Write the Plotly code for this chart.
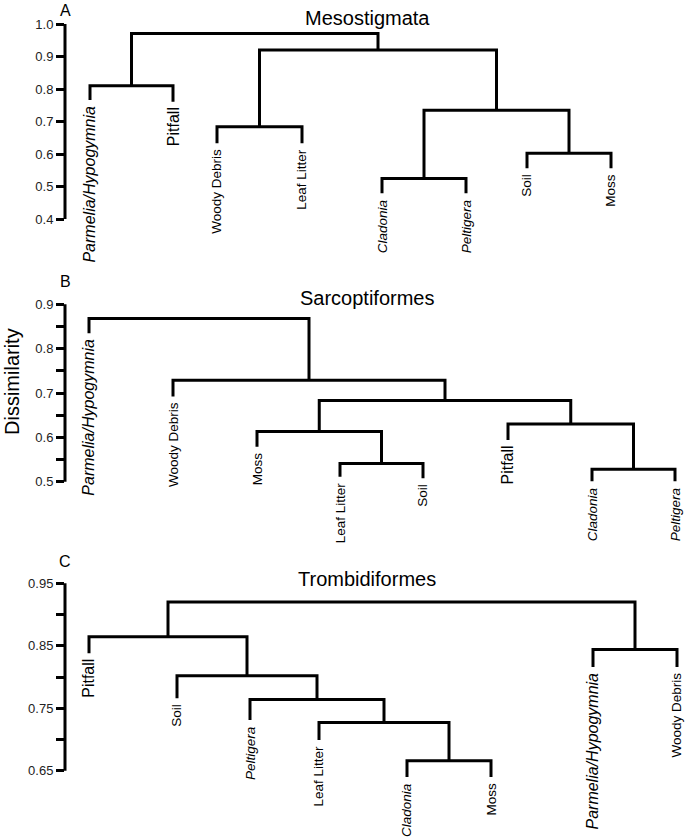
import plotly.graph_objects as go

FONT = "Liberation Sans, Arial, sans-serif"
W, H = 686, 837

# ---------------- data ----------------
# Panel A - Mesostigmata
a_title = "Mesostigmata"
a_leaves = ["<i>Parmelia/Hypogymnia</i>", "Pitfall", "Woody Debris", "Leaf Litter",
            "<i>Cladonia</i>", "<i>Peltigera</i>", "Soil", "Moss"]
a_leaf_pos = [90, 173, 217, 302, 382, 466, 527, 611]
a_leaf_tip = [0.766, 0.761, 0.633, 0.633, 0.479, 0.479, 0.556, 0.556]
# merges: (child, child, dissimilarity); ids 0-7 leaves, 8+k = k-th merge
a_merges = [(0, 1, 0.81), (2, 3, 0.684), (4, 5, 0.525), (6, 7, 0.602),
            (10, 11, 0.735), (9, 12, 0.92), (8, 13, 0.971)]
a_tickvals = [0.4, 0.5, 0.6, 0.7, 0.8, 0.9, 1.0]
a_ticktext = ["0.4", "0.5", "0.6", "0.7", "0.8", "0.9", "1.0"]

# Panel B - Sarcoptiformes
b_title = "Sarcoptiformes"
b_leaves = ["<i>Parmelia/Hypogymnia</i>", "Woody Debris", "Moss", "Leaf Litter", "Soil",
            "Pitfall", "<i>Cladonia</i>", "<i>Peltigera</i>"]
b_leaf_pos = [89, 173, 257, 340, 423, 508, 592, 675]
b_leaf_tip = [0.835, 0.692, 0.579, 0.511, 0.508, 0.594, 0.501, 0.501]
b_merges = [(3, 4, 0.541), (2, 8, 0.613), (6, 7, 0.528), (5, 10, 0.630),
            (9, 11, 0.683), (1, 12, 0.729), (0, 13, 0.868)]
b_tickvals = [0.5, 0.55, 0.6, 0.65, 0.7, 0.75, 0.8, 0.85, 0.9]
b_ticktext = ["0.5", "", "0.6", "", "0.7", "", "0.8", "", "0.9"]

# Panel C - Trombidiformes
c_title = "Trombidiformes"
c_leaves = ["Pitfall", "Soil", "<i>Peltigera</i>", "Leaf Litter", "<i>Cladonia</i>", "Moss",
            "<i>Parmelia/Hypogymnia</i>", "Woody Debris"]
c_leaf_pos = [89, 177, 250, 319, 407, 491, 593, 677]
c_leaf_tip = [0.838, 0.766, 0.731, 0.699, 0.640, 0.640, 0.816, 0.816]
c_merges = [(4, 5, 0.666), (3, 8, 0.727), (2, 9, 0.764), (1, 10, 0.802),
            (0, 11, 0.8645), (6, 7, 0.844), (12, 13, 0.920)]
c_tickvals = [0.65, 0.70, 0.75, 0.80, 0.85, 0.90, 0.95]
c_ticktext = ["0.65", "", "0.75", "", "0.85", "", "0.95"]

panels = [
    dict(title=a_title, letter="A", leaves=a_leaves, pos=a_leaf_pos, tip=a_leaf_tip,
         merges=a_merges, tv=a_tickvals, tt=a_ticktext,
         calib=(0.4, 219, 1.0, 24), rng=(0.34, 1.02), title_py=18, letter_py=10),
    dict(title=b_title, letter="B", leaves=b_leaves, pos=b_leaf_pos, tip=b_leaf_tip,
         merges=b_merges, tv=b_tickvals, tt=b_ticktext,
         calib=(0.5, 481.7, 0.9, 304.3), rng=(0.47, 0.92), title_py=298, letter_py=281),
    dict(title=c_title, letter="C", leaves=c_leaves, pos=c_leaf_pos, tip=c_leaf_tip,
         merges=c_merges, tv=c_tickvals, tt=c_ticktext,
         calib=(0.65, 770.7, 0.95, 583.3), rng=(0.62, 0.96), title_py=579, letter_py=561),
]

LARGE = {"<i>Parmelia/Hypogymnia</i>", "Pitfall"}
AXIS_PX = 65


def domain_for(calib, rng):
    v_lo, py_lo, v_hi, py_hi = calib
    s = (py_lo - py_hi) / (v_hi - v_lo)
    p_lo = py_lo + (v_lo - rng[0]) * s
    p_hi = py_hi - (rng[1] - v_hi) * s
    return [1 - p_lo / H, 1 - p_hi / H]


def dendro_xy(pos, tip, merges):
    nx = list(pos)
    nh = list(tip)
    xs, ys = [], []
    for a, b, h in merges:
        xs += [nx[a], nx[a], nx[b], nx[b], None]
        ys += [nh[a], h, h, nh[b], None]
        nx.append((nx[a] + nx[b]) / 2)
        nh.append(h)
    return xs, ys


fig = go.Figure()
annotations = []
shapes = []
layout = {}

for i, p in enumerate(panels):
    sfx = "" if i == 0 else str(i + 1)
    xref, yref = "x" + sfx, "y" + sfx
    xs, ys = dendro_xy(p["pos"], p["tip"], p["merges"])
    fig.add_trace(go.Scatter(x=xs, y=ys, mode="lines", xaxis=xref, yaxis=yref,
                             line=dict(color="black", width=3), hoverinfo="skip",
                             showlegend=False))
    layout["xaxis" + sfx] = dict(domain=[AXIS_PX / W, 1], range=[AXIS_PX, W],
                                 visible=False, anchor=yref, fixedrange=True)
    layout["yaxis" + sfx] = dict(domain=domain_for(p["calib"], p["rng"]), range=list(p["rng"]),
                                 anchor=xref, showline=False, showgrid=False, zeroline=False,
                                 ticks="outside", ticklen=8, tickwidth=2.5, tickcolor="black",
                                 tickvals=p["tv"], ticktext=p["tt"],
                                 tickfont=dict(family=FONT, size=13, color="#222"),
                                 fixedrange=True)
    # axis spine spanning the tick range
    shapes.append(dict(type="line", xref="paper", yref=yref,
                       x0=AXIS_PX / W, x1=AXIS_PX / W, y0=min(p["tv"]), y1=max(p["tv"]),
                       line=dict(color="black", width=3)))
    for name, x, t in zip(p["leaves"], p["pos"], p["tip"]):
        annotations.append(dict(xref=xref, yref=yref, x=x, y=t, text=name, showarrow=False,
                                textangle=-90, xanchor="center", yanchor="top", yshift=-4,
                                font=dict(family=FONT, size=16 if name in LARGE else 13.5,
                                          color="black")))
    annotations.append(dict(xref="paper", yref="paper", x=367 / W, y=1 - p["title_py"] / H,
                            text=p["title"], showarrow=False, xanchor="center", yanchor="middle",
                            font=dict(family=FONT, size=20, color="black")))
    annotations.append(dict(xref="paper", yref="paper", x=65 / W, y=1 - p["letter_py"] / H,
                            text=p["letter"], showarrow=False, xanchor="center", yanchor="middle",
                            font=dict(family=FONT, size=16, color="black")))

annotations.append(dict(xref="paper", yref="paper", x=12 / W, y=1 - 382 / H, text="Dissimilarity",
                        showarrow=False, textangle=-90, xanchor="center", yanchor="middle",
                        font=dict(family=FONT, size=20, color="black")))

fig.update_layout(width=W, height=H, margin=dict(l=0, r=0, t=0, b=0),
                  paper_bgcolor="white", plot_bgcolor="white",
                  annotations=annotations, shapes=shapes, **layout)

fig.write_html("out.html", config={"displayModeBar": False},
               post_script="document.body.style.margin='0px';"
               "document.body.style.overflow='hidden';")
